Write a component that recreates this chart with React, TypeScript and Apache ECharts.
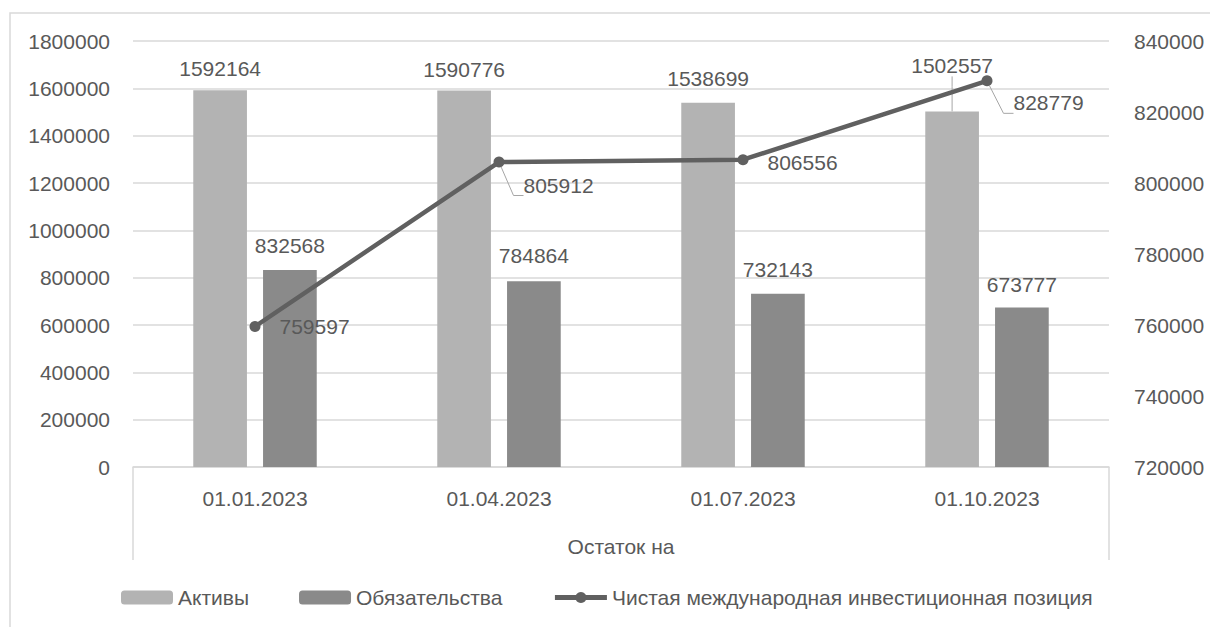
import React, { useEffect, useRef } from "react";
import * as echarts from "echarts";

const categories = ["01.01.2023", "01.04.2023", "01.07.2023", "01.10.2023"];
const assets = [1592164, 1590776, 1538699, 1502557];
const liabilities = [832568, 784864, 732143, 673777];
const netPosition = [759597, 805912, 806556, 828779];

const seriesNames = ["Активы", "Обязательства", "Чистая международная инвестиционная позиция"];
const axisTitle = "Остаток на";

// label placement tweaks (styling, not data)
const assetsLabelShift = [-11, -11, -14, -35];
const liabilitiesLabelOffsets = [[0, -14], [0, -15], [0, -14], [0, -13]];
const netLabelOffsets = [[0, 0], [0, 23], [0, 3], [2, 22]];
const assetsLeader = [false, false, false, true];
const netLeader = [false, true, false, true];

const FONT = "Liberation Sans";
const TEXT = "#595959";
const GRID_LINE = "#D9D9D9";

export default function App() {
  const ref = useRef<HTMLDivElement>(null);

  useEffect(() => {
    if (!ref.current) return;
    const chart = echarts.init(ref.current, undefined, { renderer: "svg" });
    const leaderLine = { show: true, length2: 10, lineStyle: { color: "#A6A6A6", width: 1 } };
    const plain = (v: number) => String(v);
    const option: any = {
      animation: false,
      backgroundColor: "#ffffff",
      textStyle: { fontFamily: FONT, color: TEXT, fontSize: 21 },
      graphic: [
        {
          type: "rect",
          shape: { x: 10, y: 13, width: 1300, height: 700 },
          style: { fill: "none", stroke: GRID_LINE, lineWidth: 1.5 },
          silent: true,
        },
      ],
      grid: { left: 133, right: 101, top: 41, bottom: 160 },
      legend: {
        left: 121,
        top: 587,
        padding: 0,
        itemWidth: 52,
        itemHeight: 14,
        itemGap: 50,
        textStyle: { fontFamily: FONT, color: TEXT, fontSize: 21 },
        data: [
          { name: seriesNames[0] },
          { name: seriesNames[1] },
          { name: seriesNames[2], lineStyle: { width: 5 } },
        ],
      },
      xAxis: {
        type: "category",
        data: categories,
        boundaryGap: true,
        name: axisTitle,
        nameLocation: "middle",
        nameGap: 69,
        nameTextStyle: { fontFamily: FONT, color: TEXT, fontSize: 21 },
        axisLine: { show: true, lineStyle: { color: GRID_LINE, width: 1.5 } },
        axisTick: {
          show: true,
          interval: (index: number) => index === 0,
          length: 93,
          lineStyle: { color: GRID_LINE, width: 1.5 },
        },
        axisLabel: { interval: 0, margin: 21, color: TEXT, fontFamily: FONT, fontSize: 21 },
      },
      yAxis: [
        {
          type: "value",
          min: 0,
          max: 1800000,
          interval: 200000,
          axisLine: { show: false },
          axisTick: { show: false },
          axisLabel: { margin: 23, color: TEXT, fontFamily: FONT, fontSize: 21, formatter: plain },
          splitLine: { show: true, lineStyle: { color: GRID_LINE, width: 1.5 } },
        },
        {
          type: "value",
          min: 720000,
          max: 840000,
          interval: 20000,
          position: "right",
          axisLine: { show: false },
          axisTick: { show: false },
          axisLabel: { margin: 25, color: TEXT, fontFamily: FONT, fontSize: 21, formatter: plain },
          splitLine: { show: false },
        },
      ],
      series: [
        {
          name: seriesNames[0],
          type: "bar",
          barWidth: "22%",
          barGap: "30%",
          itemStyle: { color: "#B3B3B3" },
          label: {
            show: true,
            position: "top",
            distance: 0,
            color: TEXT,
            fontFamily: FONT,
            fontSize: 21,
          },
          labelLayout: (params: any) => ({ dy: assetsLabelShift[params.dataIndex] }),
          data: assets.map((v, i) => ({
            value: v,
            labelLine: assetsLeader[i] ? leaderLine : { show: false },
          })),
        },
        {
          name: seriesNames[1],
          type: "bar",
          barWidth: "22%",
          barGap: "30%",
          itemStyle: { color: "#8A8A8A" },
          label: {
            show: true,
            position: "top",
            distance: 0,
            color: TEXT,
            fontFamily: FONT,
            fontSize: 21,
          },
          data: liabilities.map((v, i) => ({
            value: v,
            label: { offset: liabilitiesLabelOffsets[i] },
          })),
        },
        {
          name: seriesNames[2],
          type: "line",
          yAxisIndex: 1,
          symbol: "circle",
          symbolSize: 11,
          z: 5,
          lineStyle: { color: "#606060", width: 4.5 },
          itemStyle: { color: "#606060" },
          label: {
            show: true,
            position: "right",
            distance: 19,
            color: TEXT,
            fontFamily: FONT,
            fontSize: 21,
          },
          data: netPosition.map((v, i) => ({
            value: v,
            label: { offset: netLabelOffsets[i] },
            labelLine: netLeader[i] ? leaderLine : { show: false },
          })),
        },
      ],
    };
    chart.setOption(option);
    return () => chart.dispose();
  }, []);

  return (
    <div
      ref={ref}
      style={{ position: "fixed", left: 0, top: 0, width: 1210, height: 627, background: "#fff" }}
    />
  );
}
